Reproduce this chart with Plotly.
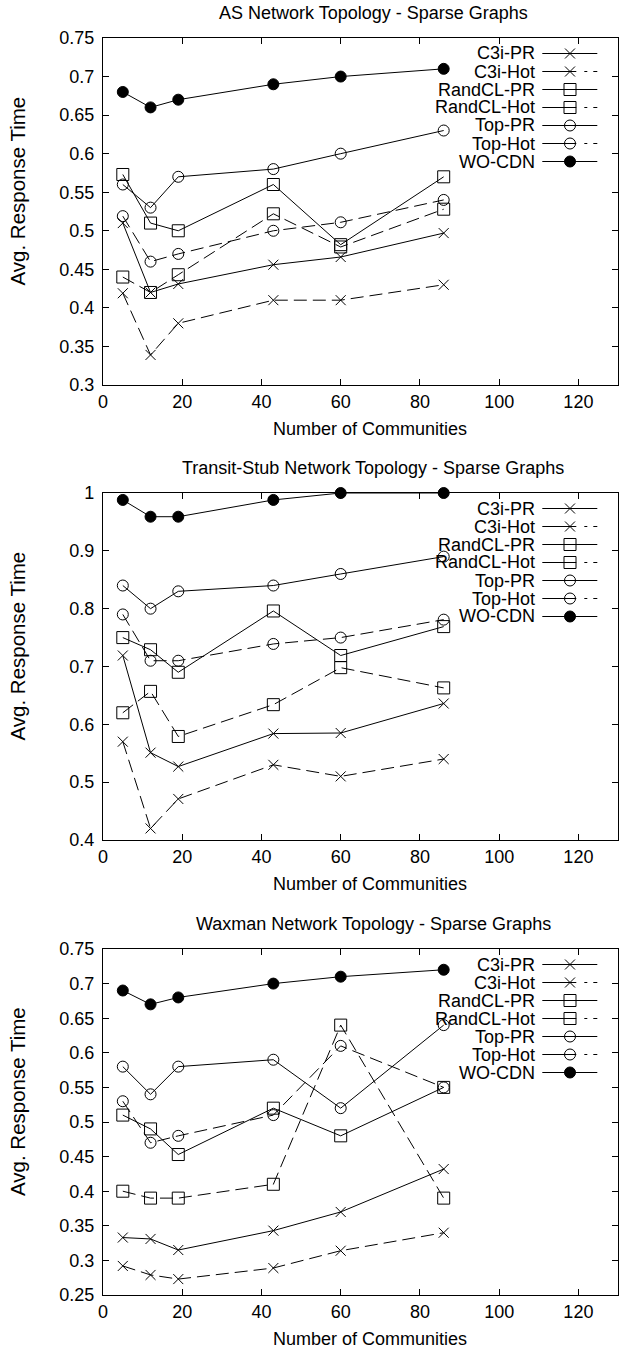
import plotly.graph_objects as go

# ---------------- data ----------------
communities = [5, 12, 19, 43, 60, 86]
series_names = ["C3i-PR", "C3i-Hot", "RandCL-PR", "RandCL-Hot", "Top-PR", "Top-Hot", "WO-CDN"]

# AS Network Topology
as_c3i_pr = [0.510, 0.420, 0.431, 0.456, 0.466, 0.497]
as_c3i_hot = [0.419, 0.339, 0.380, 0.410, 0.410, 0.430]
as_randcl_pr = [0.573, 0.510, 0.500, 0.560, 0.482, 0.570]
as_randcl_hot = [0.440, 0.420, 0.443, 0.522, 0.479, 0.528]
as_top_pr = [0.560, 0.530, 0.570, 0.580, 0.600, 0.630]
as_top_hot = [0.519, 0.460, 0.470, 0.500, 0.511, 0.540]
as_wo_cdn = [0.680, 0.660, 0.670, 0.690, 0.700, 0.710]

# Transit-Stub Network Topology
ts_c3i_pr = [0.719, 0.551, 0.527, 0.584, 0.585, 0.636]
ts_c3i_hot = [0.570, 0.420, 0.471, 0.530, 0.510, 0.540]
ts_randcl_pr = [0.750, 0.729, 0.690, 0.796, 0.719, 0.769]
ts_randcl_hot = [0.620, 0.657, 0.579, 0.634, 0.698, 0.663]
ts_top_pr = [0.840, 0.800, 0.830, 0.840, 0.860, 0.890]
ts_top_hot = [0.790, 0.710, 0.710, 0.739, 0.750, 0.781]
ts_wo_cdn = [0.988, 0.959, 0.959, 0.988, 1.000, 1.000]

# Waxman Network Topology
wx_c3i_pr = [0.333, 0.331, 0.315, 0.343, 0.370, 0.432]
wx_c3i_hot = [0.292, 0.279, 0.273, 0.289, 0.314, 0.340]
wx_randcl_pr = [0.510, 0.490, 0.453, 0.520, 0.480, 0.550]
wx_randcl_hot = [0.400, 0.390, 0.390, 0.410, 0.640, 0.390]
wx_top_pr = [0.580, 0.540, 0.580, 0.590, 0.520, 0.640]
wx_top_hot = [0.530, 0.470, 0.480, 0.510, 0.610, 0.550]
wx_wo_cdn = [0.690, 0.670, 0.680, 0.700, 0.710, 0.720]

panel_titles = ["AS Network Topology - Sparse Graphs",
                "Transit-Stub Network Topology - Sparse Graphs",
                "Waxman Network Topology - Sparse Graphs"]
panel_series = [
    [as_c3i_pr, as_c3i_hot, as_randcl_pr, as_randcl_hot, as_top_pr, as_top_hot, as_wo_cdn],
    [ts_c3i_pr, ts_c3i_hot, ts_randcl_pr, ts_randcl_hot, ts_top_pr, ts_top_hot, ts_wo_cdn],
    [wx_c3i_pr, wx_c3i_hot, wx_randcl_pr, wx_randcl_hot, wx_top_pr, wx_top_hot, wx_wo_cdn],
]
y_ranges = [[0.3, 0.75], [0.4, 1.0], [0.25, 0.75]]
y_dticks = [0.05, 0.1, 0.05]
x_range = [0, 130]
x_dtick = 20
x_title = "Number of Communities"
y_title = "Avg. Response Time"

# ---------------- styles ----------------
FONT = "Liberation Sans, Arial, Helvetica, sans-serif"
FS = 18
FS_YTITLE = 20.5
HOT_DASH = "13px,6px"
styles = {
    "C3i-PR": dict(symbol="x-thin", size=10, dash="solid"),
    "C3i-Hot": dict(symbol="x-thin", size=10, dash=HOT_DASH),
    "RandCL-PR": dict(symbol="square-open", size=12, dash="solid"),
    "RandCL-Hot": dict(symbol="square-open", size=12, dash=HOT_DASH),
    "Top-PR": dict(symbol="circle-open", size=11, dash="solid"),
    "Top-Hot": dict(symbol="circle-open", size=11, dash=HOT_DASH),
    "WO-CDN": dict(symbol="circle", size=11, dash="solid"),
}

W, H = 620, 1351
ML, MR, MT, MB = 103, 2, 38, 56
PX_TOP = MT
PX_BOT = H - MB
plot_tops = [38, 493, 949]
plot_bots = [385, 840, 1295]
span = PX_BOT - PX_TOP


def ydom(top, bot):
    return [(PX_BOT - bot) / span, (PX_BOT - top) / span]


def py(pix):
    return (PX_BOT - pix) / span


def px(pix):
    return (pix - ML) / (W - ML - MR)


fig = go.Figure()
for p in range(3):
    xa = "x" if p == 0 else f"x{p+1}"
    ya = "y" if p == 0 else f"y{p+1}"
    for name, vals in zip(series_names, panel_series[p]):
        st = styles[name]
        fig.add_trace(go.Scatter(
            x=communities, y=vals, mode="lines+markers", name=name,
            xaxis=xa, yaxis=ya, showlegend=False, cliponaxis=False,
            line=dict(color="black", width=1, dash=st["dash"]),
            marker=dict(symbol=st["symbol"], size=st["size"], color="black",
                        line=dict(color="black", width=1)),
        ))

axis_common = dict(
    showgrid=False, zeroline=False, ticks="inside", ticklen=6, tickwidth=1,
    tickcolor="black", showline=True, linecolor="black", linewidth=1.2,
    mirror="ticks", automargin=False,
    tickfont=dict(family=FONT, size=FS, color="black"),
)
layout = dict(
    width=W, height=H, margin=dict(l=ML, r=MR, t=MT, b=MB, autoexpand=False),
    paper_bgcolor="white", plot_bgcolor="rgba(0,0,0,0)", showlegend=False,
    font=dict(family=FONT, size=FS, color="black"),
)
for p in range(3):
    sx = "" if p == 0 else str(p + 1)
    layout[f"xaxis{sx}"] = dict(axis_common, domain=[0, 1], range=x_range, dtick=x_dtick,
                                tick0=0, anchor=f"y{sx}", ticklabelstandoff=0)
    layout[f"yaxis{sx}"] = dict(axis_common, domain=ydom(plot_tops[p], plot_bots[p]),
                                range=y_ranges[p], dtick=y_dticks[p], tick0=0,
                                anchor=f"x{sx}", ticklabelstandoff=4)

# overlay pixel axes for the gnuplot-style legend samples
layout["xaxis4"] = dict(domain=[0, 1], range=[ML, W - MR], visible=False, anchor="y4",
                        fixedrange=True, automargin=False)
layout["yaxis4"] = dict(domain=[0, 1], range=[PX_BOT, PX_TOP], visible=False, anchor="x4",
                        fixedrange=True, automargin=False)
fig.update_layout(**layout)

annotations = []
LEG_TEXT_X = 536.7
LEG_X0, LEG_XM, LEG_X1 = 542.3, 570.0, 597.3
LEG_ROW0 = 15.5
LEG_DY = 18.0
legend_dash = {"solid": "solid", HOT_DASH: "34px,8px,3px,6px,4px"}

for p in range(3):
    top, bot = plot_tops[p], plot_bots[p]
    annotations.append(dict(x=px(373), y=py(top - 25), xref="paper", yref="paper", text=panel_titles[p],
                            showarrow=False, xanchor="center", yanchor="middle",
                            font=dict(family=FONT, size=FS)))
    annotations.append(dict(x=px(370), y=py(bot + 44), xref="paper", yref="paper", text=x_title,
                            showarrow=False, xanchor="center", yanchor="middle",
                            font=dict(family=FONT, size=FS)))
    annotations.append(dict(x=px(17), y=py((top + bot) / 2 - 20), xref="paper", yref="paper", text=y_title,
                            showarrow=False, xanchor="center", yanchor="middle", textangle=-90,
                            font=dict(family=FONT, size=FS_YTITLE)))
    for i, name in enumerate(series_names):
        ry = top + LEG_ROW0 + i * LEG_DY
        st = styles[name]
        annotations.append(dict(x=px(LEG_TEXT_X), y=py(ry), xref="paper", yref="paper", text=name,
                                showarrow=False, xanchor="right", yanchor="middle",
                                font=dict(family=FONT, size=FS)))
        fig.add_trace(go.Scatter(x=[LEG_X0, LEG_X1], y=[ry, ry], mode="lines",
                                 xaxis="x4", yaxis="y4", showlegend=False, hoverinfo="skip",
                                 line=dict(color="black", width=1, dash=legend_dash[st["dash"]])))
        fig.add_trace(go.Scatter(x=[LEG_XM], y=[ry], mode="markers",
                                 xaxis="x4", yaxis="y4", showlegend=False, hoverinfo="skip",
                                 marker=dict(symbol=st["symbol"], size=st["size"], color="black",
                                             line=dict(color="black", width=1))))

fig.update_layout(annotations=annotations)

fig.write_html("out.html", config={"displayModeBar": False},
               post_script="document.body.style.margin='0';document.body.style.overflow='hidden';")
